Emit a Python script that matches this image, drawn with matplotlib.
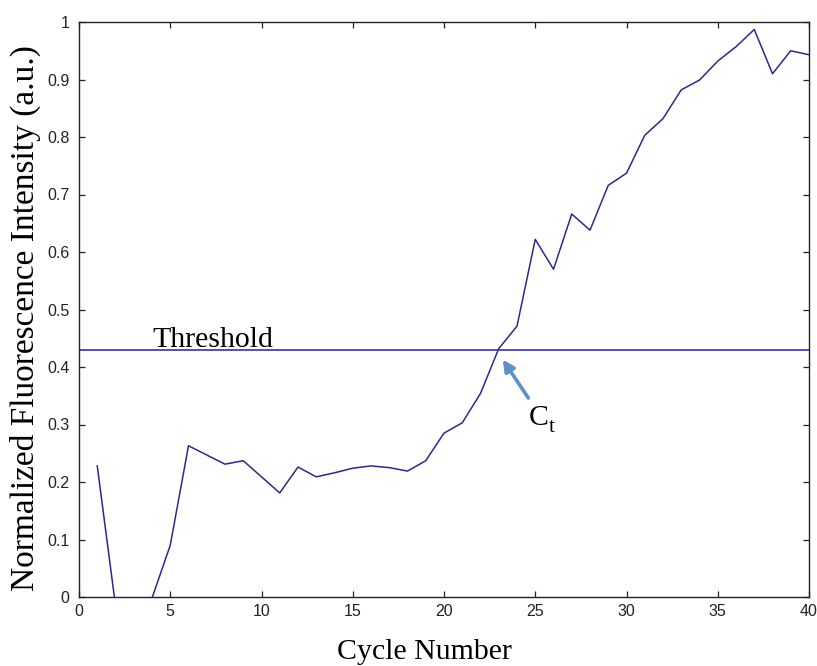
import matplotlib
matplotlib.use("Agg")
import matplotlib.pyplot as plt
from matplotlib.transforms import offset_copy

# Normalized fluorescence per PCR cycle
cycles = list(range(1, 41))
intensity = [
    0.228, -0.015, -0.05, -0.002, 0.090, 0.263, 0.247, 0.231, 0.237, 0.209,
    0.181, 0.226, 0.209, 0.216, 0.224, 0.228, 0.225, 0.219, 0.237, 0.285,
    0.303, 0.354, 0.432, 0.471, 0.622, 0.570, 0.666, 0.638, 0.716, 0.737,
    0.803, 0.832, 0.882, 0.899, 0.932, 0.957, 0.987, 0.910, 0.950, 0.943,
]
threshold = 0.43
ct_point = (23.22, 0.413)
ct_label_pos = (24.62, 0.346)

x_ticks = [0, 5, 10, 15, 20, 25, 30, 35, 40]
x_tick_labels = ["0", "5", "10", "15", "20", "25", "30", "35", "40"]
y_ticks = [0, 0.1, 0.2, 0.3, 0.4, 0.5, 0.6, 0.7, 0.8, 0.9, 1.0]
y_tick_labels = ["0", "0.1", "0.2", "0.3", "0.4", "0.5", "0.6", "0.7", "0.8", "0.9", "1"]

serif = "Liberation Serif"
big = 21.5

fig = plt.figure(figsize=(8.17, 6.66), dpi=100)
ax = fig.add_axes([79 / 817, 1 - 597 / 666, 730 / 817, 575 / 666])

ax.plot(cycles, intensity, color="#2a2a8c", lw=1.1)
ax.axhline(threshold, color="#3434a0", lw=1.2)

ax.set_xlim(0, 40)
ax.set_ylim(0, 1)
ax.set_xticks(x_ticks)
ax.set_xticklabels(x_tick_labels)
ax.set_yticks(y_ticks)
ax.set_yticklabels(y_tick_labels)
ax.tick_params(direction="in", length=4.5, width=0.9, top=True, right=True,
               labelsize=11.5, colors="#222222")
ax.tick_params(axis="x", pad=5)
ax.tick_params(axis="y", pad=7)
for lab in ax.get_xticklabels() + ax.get_yticklabels():
    lab.set_fontfamily("Liberation Sans")
for sp in ax.spines.values():
    sp.set_linewidth(1.0)
    sp.set_color("#222222")

ax.text(4.05, 0.435, "Threshold", fontsize=big, family=serif, ha="left", va="baseline")

# C with a subscript t, drawn as two pieces so the subscript sits low
ct_x, ct_y = 24.62, 0.299
ax.text(ct_x, ct_y, "C", fontsize=big, family=serif, ha="left", va="baseline")
sub_tr = offset_copy(ax.transData, fig=fig, x=20.5, y=-6.7, units="dots")
ax.text(ct_x, ct_y, "t", fontsize=16, family=serif, ha="left", va="baseline",
        transform=sub_tr)

ax.annotate("", xy=ct_point, xytext=ct_label_pos,
            arrowprops=dict(arrowstyle="-|>", color="#5b93c7", lw=2.6,
                            mutation_scale=17, shrinkA=0, shrinkB=0))

fig.text(424 / 817, 1 - 659 / 666, "Cycle Number", fontsize=big, family=serif,
         ha="center", va="baseline")
fig.text(25 / 817, 1 - 318 / 666, "Normalized Fluorescence Intensity (a.u.)",
         fontsize=24, family=serif, rotation=90, ha="center", va="center")

fig.savefig("out.png", dpi=100)
